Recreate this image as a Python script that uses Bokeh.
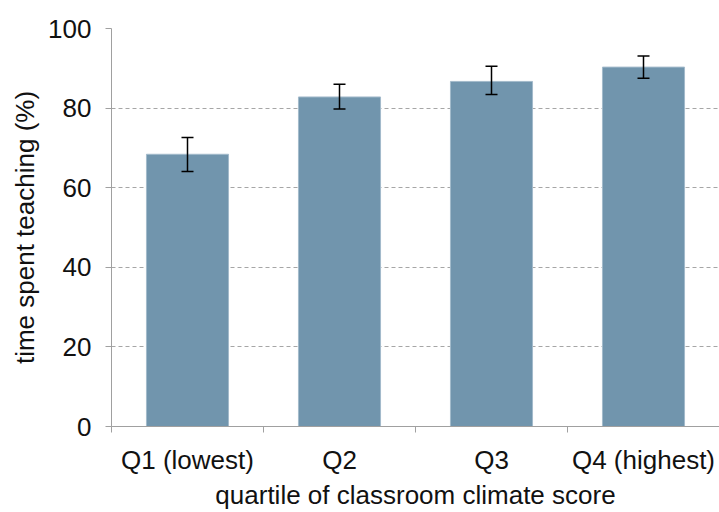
from bokeh.plotting import figure
from bokeh.models import ColumnDataSource, FixedTicker, Range1d, Whisker, TeeHead
from bokeh.embed import file_html
from bokeh.resources import INLINE

categories = ["Q1 (lowest)", "Q2", "Q3", "Q4 (highest)"]
teaching = [68.4, 82.8, 86.7, 90.3]
err_low = [64.1, 79.8, 83.4, 87.5]
err_high = [72.6, 86.0, 90.5, 93.1]
y_ticks = [0, 20, 40, 60, 80, 100]

x_pos = [i + 0.5 for i in range(len(categories))]
src = ColumnDataSource(dict(x=x_pos, top=teaching, lower=err_low, upper=err_high))

FONT = "Liberation Sans"
p = figure(width=719, height=512, output_backend="svg", toolbar_location=None,
           x_range=Range1d(0, len(categories)), y_range=Range1d(0, 100),
           min_border_left=111, min_border_top=28, min_border_bottom=84, min_border_right=0)
p.outline_line_color = None
p.background_fill_color = "white"

p.vbar(x="x", top="top", width=0.54, source=src, fill_color="#7195ad", line_color="#a3bacb", line_width=1)

w = Whisker(base="x", lower="lower", upper="upper", source=src, line_color="black", line_width=1.5,
            level="overlay",
            upper_head=TeeHead(size=12, line_color="black", line_width=1.5),
            lower_head=TeeHead(size=12, line_color="black", line_width=1.5))
p.add_layout(w)

# x axis
p.xaxis.ticker = FixedTicker(ticks=x_pos, minor_ticks=list(range(len(categories) + 1)))
p.xaxis.major_label_overrides = {x: c for x, c in zip(x_pos, categories)}
p.xaxis.major_tick_out = 0
p.xaxis.major_tick_in = 0
p.xaxis.minor_tick_out = 6
p.xaxis.minor_tick_in = 0
p.xaxis.major_label_standoff = 12
p.xaxis.axis_label = "quartile of classroom climate score"
p.xaxis.axis_label_standoff = 2
p.xgrid.visible = False

# y axis
p.yaxis.ticker = FixedTicker(ticks=y_ticks, minor_ticks=[])
p.yaxis.major_tick_out = 6
p.yaxis.major_tick_in = 0
p.yaxis.major_label_standoff = 14
p.yaxis.axis_label = "time spent teaching (%)"
p.yaxis.axis_label_standoff = 5
p.ygrid.grid_line_color = "#a6a6a6"
p.ygrid.grid_line_dash = "4 3"
p.ygrid.grid_line_width = 1

for ax in (p.xaxis, p.yaxis):
    ax.axis_line_color = "#a0a0a0"
    ax.major_tick_line_color = "#a0a0a0"
    ax.minor_tick_line_color = "#a0a0a0"
    ax.major_label_text_font = FONT
    ax.major_label_text_font_size = "26px"
    ax.major_label_text_color = "#111111"
    ax.axis_label_text_font = FONT
    ax.axis_label_text_font_size = "26px"
    ax.axis_label_text_font_style = "normal"
    ax.axis_label_text_color = "#111111"
p.yaxis.minor_tick_line_color = None

open("out.html", "w").write(file_html(p, INLINE))
